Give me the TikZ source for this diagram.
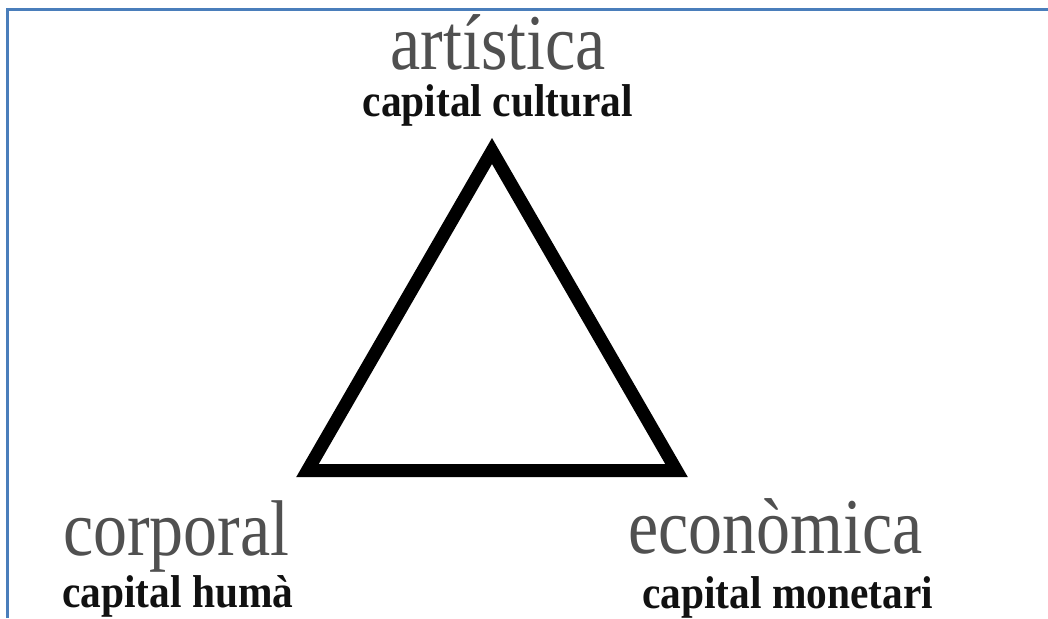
\documentclass[tikz,border=0pt]{standalone}
\usepackage{fontspec}
\usepackage{graphicx}
\setmainfont{Liberation Serif}
\definecolor{frameblue}{RGB}{74,126,187}
\definecolor{formgray}{RGB}{80,80,80}
\definecolor{capblack}{RGB}{17,17,17}
\tikzset{
  formlabel/.style={inner sep=0pt, text=formgray,
    font=\fontsize{79pt}{79pt}\selectfont},
  caplabel/.style={inner sep=0pt, text=capblack,
    font=\bfseries\fontsize{46pt}{46pt}\selectfont},
  triside/.style={line width=13pt, line join=miter, draw=black},
  frameline/.style={line width=3pt, draw=frameblue}
}
\newcommand{\narrow}[1]{\scalebox{0.86}[1]{#1}}
\newcommand{\narrowcap}[1]{\scalebox{0.9}[1]{#1}}
\begin{document}
\begin{tikzpicture}[x=1pt, y=-1pt]
  \useasboundingbox (0,0) rectangle (1048,618);
  % frame along the top and left edges
  \coordinate (fbl) at (7,618);
  \coordinate (ftl) at (7,10);
  \coordinate (ftr) at (1048,10);
  \draw[frameline] (fbl) -- (ftl) -- (ftr);
  % the triangle
  \coordinate (top) at (492,151);
  \coordinate (left) at (307.5,470.5);
  \coordinate (right) at (676.5,470.5);
  \draw[triside] (top) -- (right) -- (left) -- cycle;
  % labels at the three corners
  \node[formlabel, anchor=base] (art) at (498,70) {\narrow{artística}};
  \node[caplabel, anchor=base] (artcap) at (498,116) {\narrowcap{capital cultural}};
  \node[formlabel, anchor=base west] (corp) at (63,555) {\narrow{corporal}};
  \node[caplabel, anchor=base west] (corpcap) at (62,607) {\narrowcap{capital humà}};
  \node[formlabel, anchor=base west] (eco) at (628,553) {\narrow{econòmica}};
  \node[caplabel, anchor=base west] (ecocap) at (642,608) {\narrowcap{capital monetari}};
\end{tikzpicture}
\end{document}
